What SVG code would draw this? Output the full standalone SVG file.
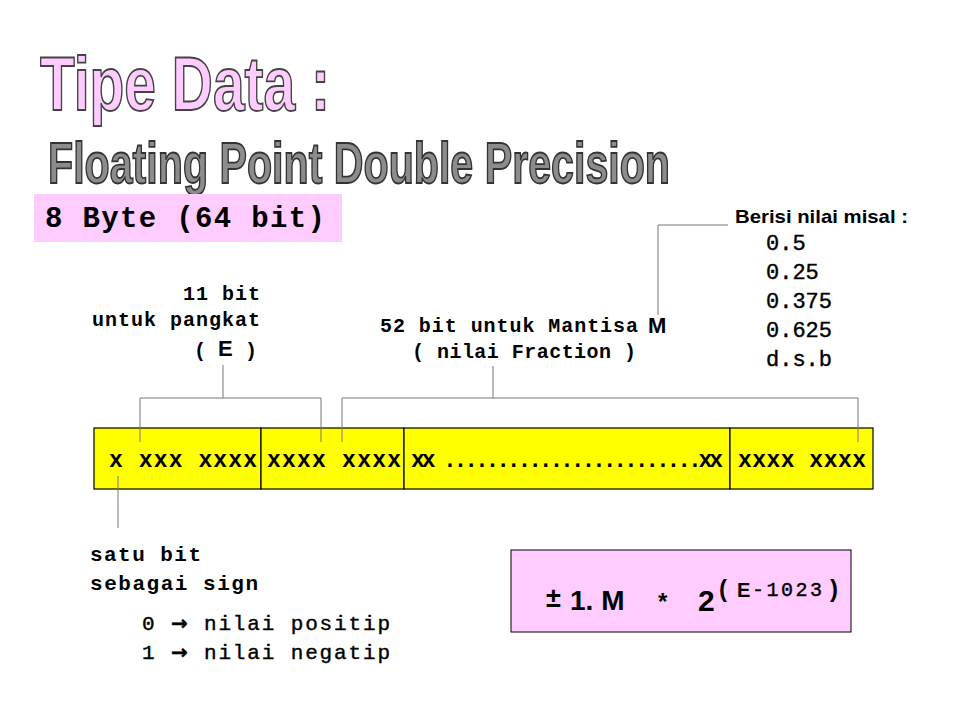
<svg xmlns="http://www.w3.org/2000/svg" width="960" height="720" viewBox="0 0 960 720">
<style>
.mono{font-family:"Liberation Mono","Courier New",monospace;font-weight:bold;fill:#000}
.monor{font-family:"Liberation Mono","Courier New",monospace;fill:#000;stroke:#000;stroke-width:0.4}
.sans{font-family:"Liberation Sans",Arial,sans-serif;font-weight:bold;fill:#000}
.arrow{font-family:"DejaVu Sans",sans-serif;font-weight:bold}
.title{font-family:"Liberation Sans Narrow","Liberation Sans",Arial,sans-serif;font-weight:bold}
.conn{stroke:#777;stroke-width:1;fill:none}
.cell{fill:#FFFF00;stroke:#000;stroke-width:1.2}
</style>
<rect width="960" height="720" fill="#fff"/>
<g id="title">
<text class="title" x="40" y="110" font-size="76" textLength="290" lengthAdjust="spacingAndGlyphs" fill="#FFCCFF" stroke="#444" stroke-width="1.8">Tipe Data :</text>
<text class="title" x="48" y="183" font-size="57" textLength="622" lengthAdjust="spacingAndGlyphs" fill="#8C8C8C" stroke="#333" stroke-width="1.8">Floating Point Double Precision</text>
</g>
<g id="size-label">
<rect x="34" y="194" width="308" height="48" fill="#FFCCFF"/>
<text class="mono" x="45" y="227" font-size="29" textLength="280" lengthAdjust="spacing">8 Byte (64 bit)</text>
</g>
<g id="bit-row">
<rect class="cell" x="94" y="428" width="167" height="61"/>
<rect class="cell" x="261" y="428" width="143" height="61"/>
<rect class="cell" x="404" y="428" width="326" height="61"/>
<rect class="cell" x="730" y="428" width="143" height="61"/>
<text class="mono" x="109" y="467" font-size="23" textLength="148" lengthAdjust="spacing">x xxx xxxx</text>
<text class="mono" x="267" y="467" font-size="23" textLength="134" lengthAdjust="spacing">xxxx xxxx</text>
<text class="mono" x="411" y="467" font-size="23" textLength="312" lengthAdjust="spacing">xx ........................xx</text>
<text class="mono" x="738" y="467" font-size="23" textLength="128" lengthAdjust="spacing">xxxx xxxx</text>
</g>
<g id="connectors">
<path class="conn" d="M140 442 V398 H321 V442 M223 365 V398"/>
<path class="conn" d="M342 442 V398 H858 V442 M493 366 V398"/>
<path class="conn" d="M658 315 V225 H728"/>
<path class="conn" d="M118 476 V528"/>
</g>
<g id="exponent-label">
<text class="mono" x="260" y="300" font-size="20" text-anchor="end" textLength="77" lengthAdjust="spacing">11 bit</text>
<text class="mono" x="260" y="326" font-size="20" text-anchor="end" textLength="168" lengthAdjust="spacing">untuk pangkat</text>
<text class="mono" x="194" y="357" font-size="20">(</text>
<text class="sans" x="218" y="356" font-size="22">E</text>
<text class="mono" x="245" y="357" font-size="20">)</text>
</g>
<g id="mantissa-label">
<text class="mono" x="380" y="332" font-size="20" textLength="258" lengthAdjust="spacing">52 bit untuk Mantisa</text>
<text class="sans" x="648" y="333" font-size="22">M</text>
<text class="mono" x="412" y="358" font-size="20" textLength="224" lengthAdjust="spacing">( nilai Fraction )</text>
</g>
<g id="examples">
<text class="sans" x="735" y="223" font-size="19" textLength="173" lengthAdjust="spacingAndGlyphs">Berisi nilai misal :</text>
<text class="monor" x="766" y="250" font-size="22">0.5</text>
<text class="monor" x="766" y="279" font-size="22">0.25</text>
<text class="monor" x="766" y="308" font-size="22">0.375</text>
<text class="monor" x="766" y="337" font-size="22">0.625</text>
<text class="monor" x="766" y="366" font-size="22">d.s.b</text>
</g>
<g id="sign-label">
<text class="mono" x="90" y="561" font-size="21" textLength="111" lengthAdjust="spacing">satu bit</text>
<text class="mono" x="90" y="590" font-size="21" textLength="168" lengthAdjust="spacing">sebagai sign</text>
<text class="monor" x="142" y="630" font-size="21" textLength="248" lengthAdjust="spacing">0 <tspan class="arrow" font-size="20">→</tspan> nilai positip</text>
<text class="monor" x="142" y="659" font-size="21" textLength="248" lengthAdjust="spacing">1 <tspan class="arrow" font-size="20">→</tspan> nilai negatip</text>
</g>
<g id="formula">
<rect x="511" y="550" width="340" height="82" fill="#FFCCFF" stroke="#000" stroke-width="1"/>
<text class="sans" x="546" y="607" font-size="27">±</text>
<text class="sans" x="570" y="610" font-size="28">1. M</text>
<text class="sans" x="658" y="610" font-size="24">*</text>
<text class="sans" x="698" y="611" font-size="30">2</text>
<text class="sans" x="719" y="597" font-size="24">(</text>
<text class="sans" x="737" y="597" font-size="20">E</text>
<text class="monor" x="752" y="596" font-size="20" stroke-width="0.2" textLength="70" lengthAdjust="spacing">-1023</text>
<text class="sans" x="830" y="597" font-size="24">)</text>
</g>
</svg>
